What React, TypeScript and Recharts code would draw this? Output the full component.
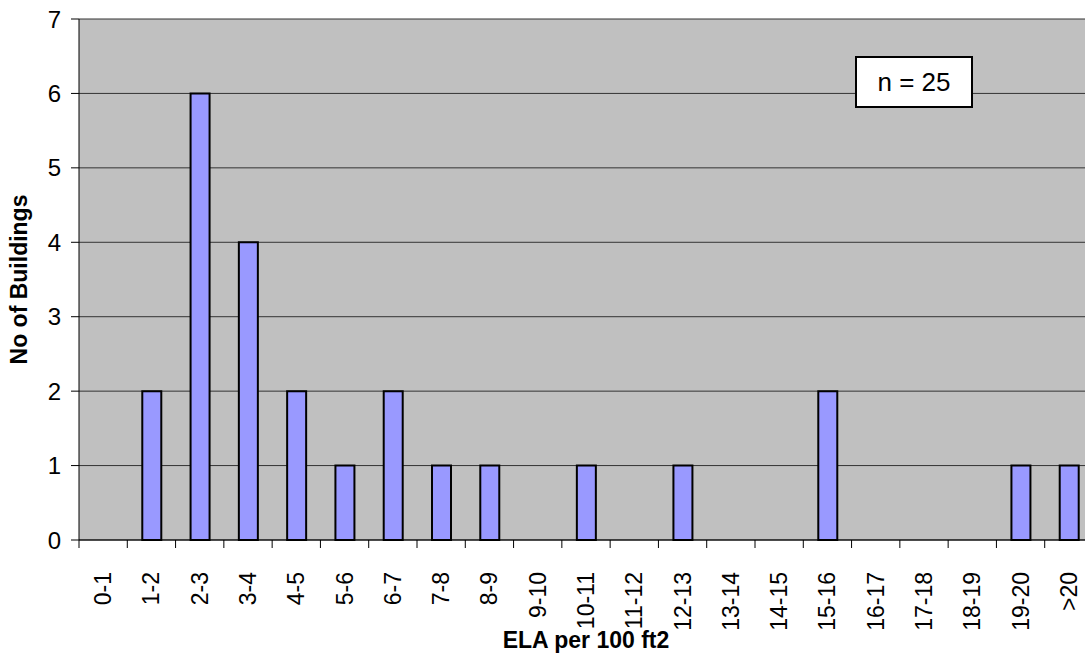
import { BarChart, Bar, XAxis, YAxis, CartesianGrid } from "recharts";

const categories = [
  "0-1", "1-2", "2-3", "3-4", "4-5", "5-6", "6-7", "7-8", "8-9", "9-10",
  "10-11", "11-12", "12-13", "13-14", "14-15", "15-16", "16-17", "17-18",
  "18-19", "19-20", ">20",
];
const buildings = [0, 2, 6, 4, 2, 1, 2, 1, 1, 0, 1, 0, 1, 0, 0, 2, 0, 0, 0, 1, 1];
const yTicks = [0, 1, 2, 3, 4, 5, 6, 7];

const data = categories.map((c, i) => ({ range: c, count: buildings[i] }));

const FONT = "Arial, 'Liberation Sans', sans-serif";

function RangeTick(props: any) {
  const { x, y, payload } = props;
  const half = payload.offset ?? 0;
  const ty = y + 24;
  return (
    <g>
      <line x1={x - half} y1={y - 8} x2={x - half} y2={y} stroke="#000" />
      <text
        x={x}
        y={ty}
        transform={`rotate(-90 ${x} ${ty})`}
        textAnchor="end"
        dominantBaseline="central"
        style={{ fontSize: 23, fontFamily: FONT, fill: "#000" }}
      >
        {payload.value}
      </text>
    </g>
  );
}

export default function App() {
  return (
    <div style={{ position: "absolute", left: 0, top: 0, width: 1085, height: 656, overflow: "hidden", background: "#fff" }}>
      <BarChart
        width={1110}
        height={656}
        data={data}
        margin={{ top: 19, right: 17, bottom: 8, left: 0 }}
        barCategoryGap="30%"
      >
        <CartesianGrid vertical={false} stroke="#333" fill="#c0c0c0" />
        <XAxis
          dataKey="range"
          interval={0}
          height={108}
          tickLine={false}
          axisLine={{ stroke: "#000" }}
          tick={<RangeTick />}
          label={{
            value: "ELA per 100 ft2",
            position: "insideBottom",
            offset: 0,
            style: { fontSize: 23, fontWeight: "bold", fontFamily: FONT, fill: "#000" },
          }}
        />
        <YAxis
          width={79}
          domain={[0, 7]}
          ticks={yTicks}
          tickSize={8}
          tickLine={{ stroke: "#000" }}
          axisLine={{ stroke: "#000" }}
          tick={{ fontSize: 24, fontFamily: FONT, fill: "#000" }}
          tickMargin={10}
          label={{
            value: "No of Buildings",
            angle: -90,
            position: "insideLeft",
            offset: 19,
            style: { textAnchor: "middle", fontSize: 23, fontWeight: "bold", fontFamily: FONT, fill: "#000" },
          }}
        />
        <Bar dataKey="count" fill="#9999ff" stroke="#000" strokeWidth={2} barSize={19} isAnimationActive={false} />
      </BarChart>
      <div
        style={{
          position: "absolute",
          left: 855,
          top: 56,
          width: 114,
          height: 48,
          border: "2px solid #000",
          background: "#fff",
          display: "flex",
          alignItems: "center",
          justifyContent: "center",
          fontFamily: FONT,
          fontSize: 26,
        }}
      >
        n = 25
      </div>
    </div>
  );
}
